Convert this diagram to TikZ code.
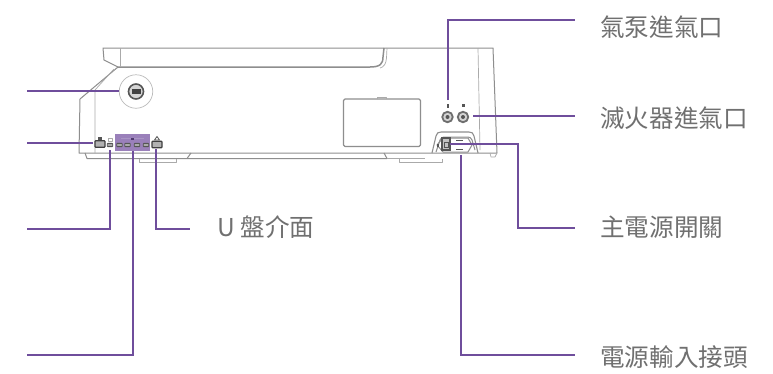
\documentclass[tikz,border=0pt]{standalone}
\usepackage{fontspec}
\setmainfont{Noto Sans CJK TC}
\tikzset{
  x=1pt,y=-1pt,
  body/.style={draw=bodygrey,line width=1pt,line join=round},
  thinbody/.style={draw=bodygrey!75,line width=0.7pt,line join=round},
  leader/.style={draw=leaderpurple,line width=1.4pt},
  lab/.style={text=labgrey,font=\fontsize{24.6}{28}\selectfont,anchor=west,inner sep=0pt},
  port/.style={draw=portgrey,line width=0.9pt,fill=portgrey!50,rounded corners=0.7pt,minimum width=5.5pt,minimum height=3.2pt,inner sep=0pt},
  usbport/.style={draw=black!75,line width=1.3pt,fill=portgrey!45,rounded corners=0.8pt,minimum width=10pt,minimum height=6.5pt,inner sep=0pt},
  socket/.style={circle,draw=portgrey!85,fill=portgrey!25,line width=1.8pt,inner sep=0pt},
}
\definecolor{bodygrey}{HTML}{8E8E8E}
\definecolor{leaderpurple}{HTML}{6F4E9C}
\definecolor{labgrey}{HTML}{707070}
\definecolor{portgrey}{HTML}{555555}
\definecolor{panelpurple}{HTML}{9A80BA}
\begin{document}
\begin{tikzpicture}
\useasboundingbox (0,0) rectangle (773,373);
\fill[white] (0,0) rectangle (773,373);
% lid
\draw[body] (118,67) -- (104,60) -- (103,48) -- (493,48) -- (497,153);
\draw[body,line width=1.5pt] (118,67) -- (370,67) .. controls (380,67) and (383,64) .. (383,57) -- (384,48);
\draw[thinbody] (387,48) -- (386.5,58) .. controls (386,64) and (384,67) .. (380,68);
\draw[thinbody] (120,48) -- (120,67);
% body
\draw[body] (118,67) -- (80,99) -- (79,153) -- (497,153);
\draw[thinbody] (114,69) -- (95,90) -- (95,153);
\draw[thinbody] (478,48) -- (480,150);
\draw[thinbody] (490,153) -- (491,157) -- (495,157) -- (497,153);
% base
\draw[body] (85,153) -- (87,158.5) -- (187,158.5) -- (191,153);
\draw[body] (187,158.5) -- (387,158.5) -- (384,153);
\draw[thinbody] (387,158.5) -- (425,158.5);
\draw[thinbody] (139,158.5) -- (139,162) -- (176,162) -- (176,158.5);
\draw[thinbody] (399,158.5) -- (399,162) -- (442,162) -- (442,158.5);
% key lock
\node[circle,draw=bodygrey!60,line width=0.7pt,minimum size=33.5pt,inner sep=0pt] (lockring) at (136,91.5) {};
\node[circle,draw=portgrey,fill=portgrey!25,line width=1.6pt,minimum size=15pt,inner sep=0pt] (lock) at (136,91.5) {};
\fill[black!75] (131.5,89) rectangle (140.5,94);
% hatch
\draw[body,rounded corners=1.5pt,line width=1.1pt] (343.5,99) rectangle (420.5,146.5);
\draw[thinbody] (377,99) -- (377,97) -- (386,97) -- (386,99);
% USB left
\node[usbport] (usbA) at (100,144) {};
\fill[portgrey] (98,137) rectangle (102,140);
\node[port] (typeC) at (110,145) {};
\draw[thinbody] (108,138) rectangle (112,141);
% panel
\node[fill=panelpurple,minimum width=35pt,minimum height=17pt,inner sep=0pt] (panel) at (132.5,142.5) {};
\draw[draw=leaderpurple!60,line width=0.5pt] (121,138.5) -- (144,138.5);
\fill[leaderpurple!70!black] (131,137.5) rectangle (134,139.5);
\node[port] (p1) at (119.5,145) {};
\node[port] (p2) at (127.5,145) {};
\node[port] (p3) at (137,145) {};
\node[port] (p4) at (146,145) {};
% USB right
\node[usbport] (usbB) at (157,144.5) {};
\draw[portgrey,line width=0.8pt] (154.5,140) -- (157,136.5) -- (159.5,140) -- cycle;
% sockets
\node[socket,minimum size=10.5pt] (airpump) at (447.5,117) {};
\node[socket,minimum size=10.5pt] (extinguisher) at (463,117) {};
\node[circle,fill=portgrey,minimum size=4pt,inner sep=0pt] (airdot) at (447.5,117) {};
\node[circle,fill=portgrey,minimum size=4pt,inner sep=0pt] (extdot) at (463,117) {};
\fill[portgrey] (446.5,104) rectangle (448.5,107.5);
\fill[portgrey] (461.5,104) rectangle (465,107);
% power inlet
\draw[body,line width=1.1pt] (432,153) -- (436,136) .. controls (437,133) and (438,132) .. (441,132) -- (469,132) .. controls (472,132) and (473,133) .. (474,136) -- (478,153);
\draw[body] (436,152) -- (440,140) .. controls (441,138) and (442,137) .. (444,137) -- (468,137) .. controls (470,137) and (471,138) .. (472,140) -- (475,150);
\draw[body] (443,138) -- (468,138) -- (472,145) -- (468,152) -- (443,152) -- (437,145) -- cycle;
\node[draw=portgrey,fill=portgrey!35,line width=1.2pt,minimum width=8pt,minimum height=12pt,inner sep=0pt] (switch) at (446,144) {};
\draw[portgrey,line width=0.8pt] (444,142) rectangle (448,147);
\draw[portgrey,line width=0.7pt] (456,140.5) -- (463,140.5) (456,149) -- (463,149);
\fill[portgrey] (437,144) rectangle (439,146.5);
\coordinate (inlet) at (461,155);
% labels
\node[lab] (l1) at (600,27) {氣泵進氣口};
\node[lab] (l2) at (600,118) {滅火器進氣口};
\node[lab] (l3) at (600,227) {主電源開關};
\node[lab] (l4) at (600,357) {電源輸入接頭};
\node[lab] (l5) at (217,227) {U 盤介面};
% free ends
\coordinate (e1) at (575,20);
\coordinate (e2) at (575,116);
\coordinate (e3) at (575,228);
\coordinate (e4) at (575,355);
\coordinate (e5) at (190,229);
\coordinate (w1) at (27,91);
\coordinate (w2) at (27,143);
\coordinate (w3) at (27,229);
\coordinate (w4) at (27,355);
\coordinate (pumpTop) at (448,100);
\coordinate (extEnd) at (473,116);
\coordinate (swEnd) at (450,144);
\coordinate (lockEnd) at (119,91);
\coordinate (usbAEnd) at (93,143);
\coordinate (cEnd) at (110,150);
\coordinate (panelEnd) at (133,151);
\coordinate (usbBEnd) at (156,149);
\coordinate (swBend) at (518,228);
% leaders
\draw[leader] (pumpTop) |- (e1);
\draw[leader] (extEnd) -- (e2);
\draw[leader] (swEnd) -| (swBend) -- (e3);
\draw[leader] (inlet) |- (e4);
\draw[leader] (lockEnd) -- (w1);
\draw[leader] (usbAEnd) -- (w2);
\draw[leader] (cEnd) |- (w3);
\draw[leader] (panelEnd) |- (w4);
\draw[leader] (usbBEnd) |- (e5);
\end{tikzpicture}
\end{document}
